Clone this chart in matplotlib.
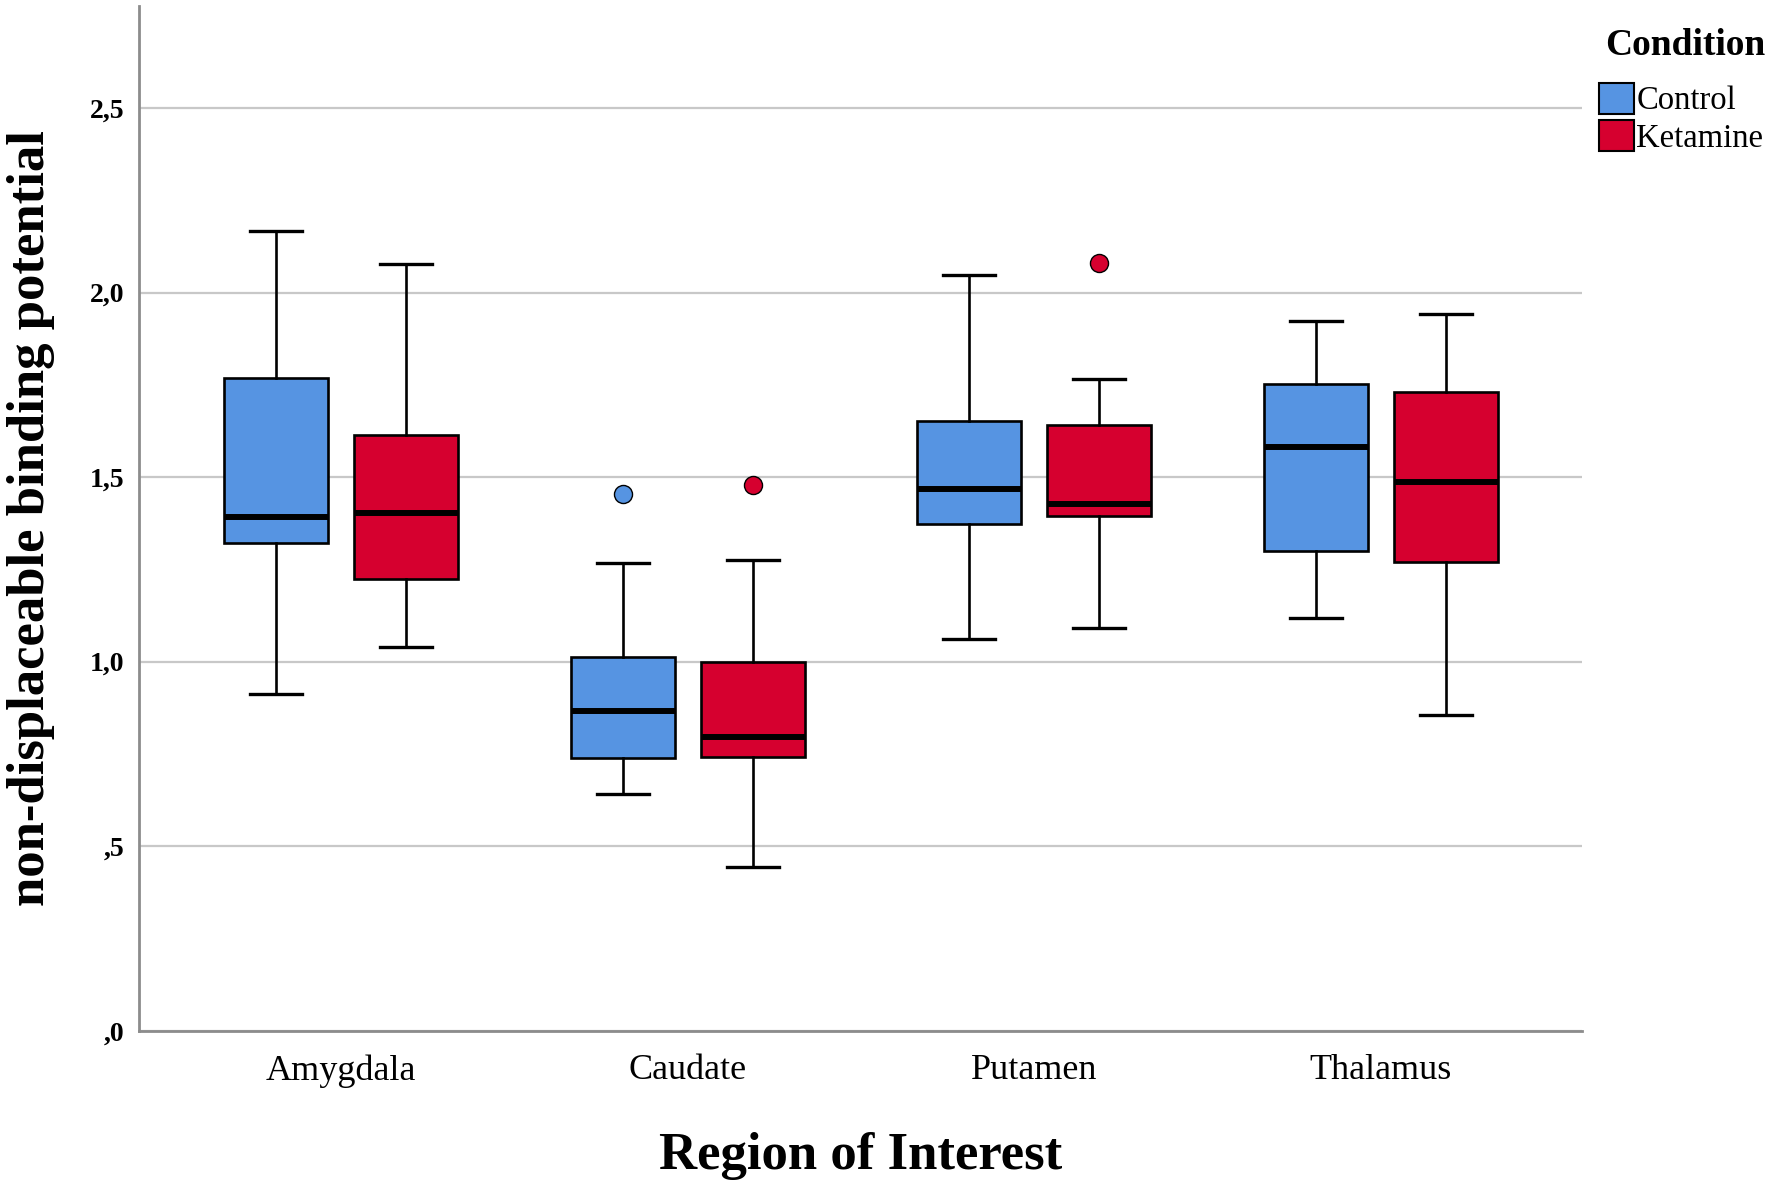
import matplotlib
matplotlib.use('Agg')
from matplotlib import pyplot as plt
from matplotlib.patches import Patch
from matplotlib.ticker import FuncFormatter


### data ###

regions = ['Amygdala', 'Caudate', 'Putamen', 'Thalamus']

control_lo = [0.912, 0.641, 1.062, 1.118]
control_q1 = [1.321, 0.738, 1.372, 1.300]
control_med = [1.393, 0.867, 1.469, 1.582]
control_q3 = [1.770, 1.012, 1.651, 1.752]
control_hi = [2.167, 1.267, 2.047, 1.923]
control_out = [[], [1.454], [], []]

ketamine_lo = [1.041, 0.443, 1.091, 0.855]
ketamine_q1 = [1.225, 0.741, 1.394, 1.271]
ketamine_med = [1.403, 0.795, 1.428, 1.487]
ketamine_q3 = [1.613, 0.998, 1.641, 1.731]
ketamine_hi = [2.078, 1.276, 1.766, 1.941]
ketamine_out = [[], [1.479], [2.080], []]

yticks = [0.0, 0.5, 1.0, 1.5, 2.0, 2.5]

blue = '#5694E2'
red = '#D6002F'

plt.rcParams['font.family'] = ['Liberation Serif', 'DejaVu Serif']


def make_stats(lo, q1, med, q3, hi, out):
    # one dict per box, the format ax.bxp wants
    stats = []
    for i in range(len(lo)):
        stats.append({'whislo': lo[i], 'q1': q1[i], 'med': med[i],
                      'q3': q3[i], 'whishi': hi[i], 'fliers': out[i]})
    return stats


fig = plt.figure(figsize=(17.72, 11.87), dpi=100)
ax = fig.add_axes([0.0782, 0.1317, 0.8146, 0.8633])

offset = 0.1875
groups = [(make_stats(control_lo, control_q1, control_med, control_q3, control_hi, control_out), -offset, blue),
          (make_stats(ketamine_lo, ketamine_q1, ketamine_med, ketamine_q3, ketamine_hi, ketamine_out), offset, red)]

for stats, off, col in groups:
    pos = [i + off for i in range(len(regions))]
    ax.bxp(stats, positions=pos, widths=0.30, capwidths=0.15, patch_artist=True,
           showfliers=True, manage_ticks=False,
           boxprops=dict(facecolor=col, edgecolor='black', linewidth=1.9),
           whiskerprops=dict(color='black', linewidth=1.9),
           capprops=dict(color='black', linewidth=2.4),
           medianprops=dict(color='black', linewidth=4.3),
           flierprops=dict(marker='o', markersize=13, markerfacecolor=col,
                           markeredgecolor='black', markeredgewidth=1.0),
           zorder=3)

ax.set_xlim(-0.584, 3.58)
ax.set_ylim(0, 2.777)
ax.set_xticks(range(len(regions)))
ax.set_xticklabels(regions, fontsize=26)
ax.set_yticks(yticks)
ax.yaxis.set_major_formatter(FuncFormatter(
    lambda v, p: ('%.1f' % v).replace('.', ',').lstrip('0')))
for lab in ax.get_yticklabels():
    lab.set_fontweight('bold')
    lab.set_fontsize(20)
ax.tick_params(axis='y', length=0, pad=10)
ax.tick_params(axis='x', length=0, pad=17)

ax.grid(axis='y', color='#c8c8c8', linewidth=1.6, zorder=0)
ax.set_axisbelow(True)
for s in ['top', 'right']:
    ax.spines[s].set_visible(False)
for s in ['left', 'bottom']:
    ax.spines[s].set_color('#8c8c8c')
    ax.spines[s].set_linewidth(2)

ax.set_xlabel('Region of Interest', fontsize=38, fontweight='bold', labelpad=32)
ax.set_ylabel('non-displaceable binding potential', fontsize=38, fontweight='bold')
ax.yaxis.set_label_coords(-0.058, 0.5)

# legend: title as its own text, entries below it
fig.text(0.9057, 0.962, 'Condition', fontsize=27, fontweight='bold', ha='left', va='center')
handles = [Patch(facecolor=blue, edgecolor='black', linewidth=1.5, label='Control'),
           Patch(facecolor=red, edgecolor='black', linewidth=1.5, label='Ketamine')]
fig.legend(handles=handles, loc='upper left', bbox_to_anchor=(0.9024, 0.930),
           frameon=False, fontsize=23.5, handlelength=1.06, handleheight=1.06,
           handletextpad=0.08, labelspacing=0.12, borderpad=0, borderaxespad=0)

plt.savefig('out.png', dpi=100)
